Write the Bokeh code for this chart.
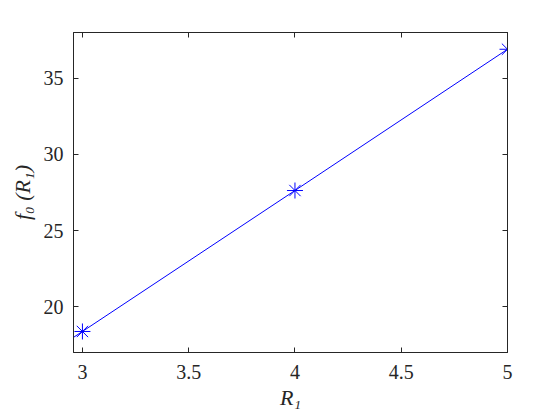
from bokeh.plotting import figure
from bokeh.models import LinearAxis, FixedTicker, Range1d, CustomJSTickFormatter
from bokeh.embed import file_html
from bokeh.resources import INLINE

# data
r1 = [3, 4, 5]
f0 = [18.38, 27.63, 36.9]
# line trace (extends slightly past the left axis limit)
line_r1 = [2.95, 3, 4, 5]
line_f0 = [17.92, 18.38, 27.63, 36.9]
x_ticks = [3, 3.5, 4, 4.5, 5]
y_ticks = [20, 25, 30, 35]

FONT = "Liberation Serif"
AX = "#262626"

p = figure(width=552, height=412, output_backend="svg", toolbar_location=None,
           x_range=Range1d(2.958, 5), y_range=Range1d(17, 38),
           min_border_left=73, min_border_top=32, min_border_right=45, min_border_bottom=55)
p.background_fill_color = "white"
p.border_fill_color = "white"
p.outline_line_color = AX
p.outline_line_width = 1
p.grid.visible = False

p.line(line_r1, line_f0, color="#0000ff", line_width=1)
p.scatter(r1, f0, marker="asterisk", size=16, line_color="#0000ff", line_width=1)

for ax, ticks in ((p.xaxis[0], x_ticks), (p.yaxis[0], y_ticks)):
    ax.ticker = FixedTicker(ticks=ticks)
    ax.major_tick_in = 5
    ax.major_tick_out = 0
    ax.minor_tick_in = 0
    ax.minor_tick_out = 0
    ax.axis_line_color = AX
    ax.major_tick_line_color = AX
    ax.major_label_text_font = FONT
    ax.major_label_text_font_size = "20px"
    ax.major_label_text_color = AX
    ax.axis_label_text_font = FONT
    ax.axis_label_text_font_size = "22px"
    ax.axis_label_text_font_style = "italic"
    ax.axis_label_text_color = AX

p.xaxis[0].axis_label = "R₁"
p.yaxis[0].axis_label = "f₀ (R₁)"
p.xaxis[0].major_label_standoff = 12
p.yaxis[0].major_label_standoff = 10
p.xaxis[0].axis_label_standoff = 3
p.yaxis[0].axis_label_standoff = 6

blank = CustomJSTickFormatter(code="return ''")
for loc, ticks in (("above", x_ticks), ("right", y_ticks)):
    a = LinearAxis(ticker=FixedTicker(ticks=ticks), major_tick_in=5, major_tick_out=0,
                   minor_tick_in=0, minor_tick_out=0, axis_line_color=AX,
                   major_tick_line_color=AX, formatter=blank,
                   major_label_standoff=0)
    p.add_layout(a, loc)

open("out.html", "w").write(file_html(p, INLINE))
